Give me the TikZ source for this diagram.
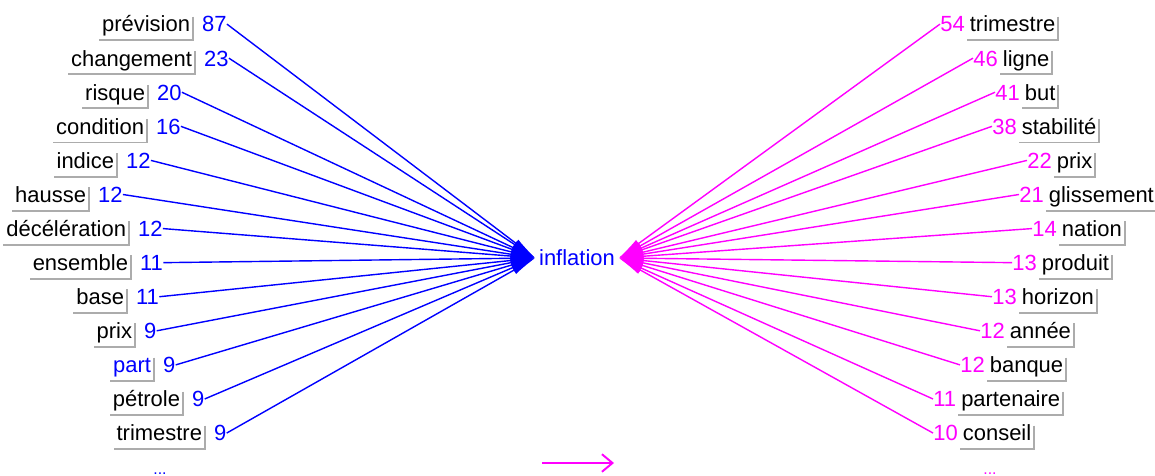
\documentclass[tikz,border=0pt]{standalone}
\usepackage{fontspec}
\setmainfont{Liberation Sans}
\usepackage{xcolor}
\usetikzlibrary{arrows.meta, positioning}
\definecolor{linkblue}{RGB}{0,0,255}
\definecolor{linkpink}{RGB}{255,0,255}

\begin{document}
\begin{tikzpicture}[x=0.02cm, y=-0.02cm, font=\fontsize{12.5}{14}\selectfont,
  word/.style={inner xsep=1.5pt, inner ysep=1.5pt, text height=7pt, text depth=3pt},
  numtext/.style={inner sep=0pt, text height=9pt, text depth=0pt},
  boxrim/.style={draw=gray!65, line width=1.1pt},
  blueline/.style={linkblue, line width=0.8pt, -{Latex[length=14pt,width=5pt]}},
  pinkline/.style={linkpink, line width=0.8pt, -{Latex[length=14pt,width=5pt]}}]
  \useasboundingbox (0,0) rectangle (1155,476);

  % centre word
  \node[linkblue, inner xsep=2pt] (infl) at (577,258) {inflation};

  % left co-occurrents
  \foreach \w/\n/\x/\c [count=\i from 0] in {prévision/87/193/black, changement/23/195/black,
      risque/20/148/black, condition/16/147/black, indice/12/117/black, hausse/12/89/black,
      décélération/12/129/black, ensemble/11/131/black, base/11/127/black, prix/9/135/black,
      part/9/154/linkblue, pétrole/9/183/black, trimestre/9/205/black} {
    \node[word, \c, anchor=base east] (lw\i) at (\x, 32+34.08*\i) {\w};
    \node[numtext, linkblue, base right=5pt of lw\i] (ln\i) {\n};
    \draw[boxrim] (lw\i.north east) -- (lw\i.south east) -- (lw\i.south west);
    \draw[blueline] (ln\i.east) -- (infl.west);
  }

  % right co-occurrents
  \foreach \n/\x/\w [count=\i from 0] in {54/940/trimestre, 46/973/ligne, 41/995/but,
      38/992/stabilité, 22/1027/prix, 21/1019/glissement, 14/1032/nation, 13/1012/produit,
      13/992/horizon, 12/980/année, 12/960/banque, 11/933/partenaire, 10/933/conseil} {
    \node[numtext, linkpink, anchor=base west] (rn\i) at (\x, 32+34.08*\i) {\n};
    \node[word, base right=1pt of rn\i] (rw\i) {\w};
    \draw[boxrim] (rw\i.north east) -- (rw\i.south east) -- (rw\i.south west);
    \draw[pinkline] (rn\i.west) -- (infl.east);
  }

  % more entries / direction
  \node[linkblue, anchor=base, font=\fontsize{9}{10}\selectfont] (moreleft) at (160,474) {...};
  \node[linkpink, anchor=base, font=\fontsize{9}{10}\selectfont] (moreright) at (990,474) {...};
  \coordinate (dirtail) at (542,463);
  \coordinate (dirhead) at (614,463);
  \draw[linkpink, line width=1.1pt, -{Straight Barb[length=6pt,width=10pt]}] (dirtail) -- (dirhead);
\end{tikzpicture}
\end{document}
